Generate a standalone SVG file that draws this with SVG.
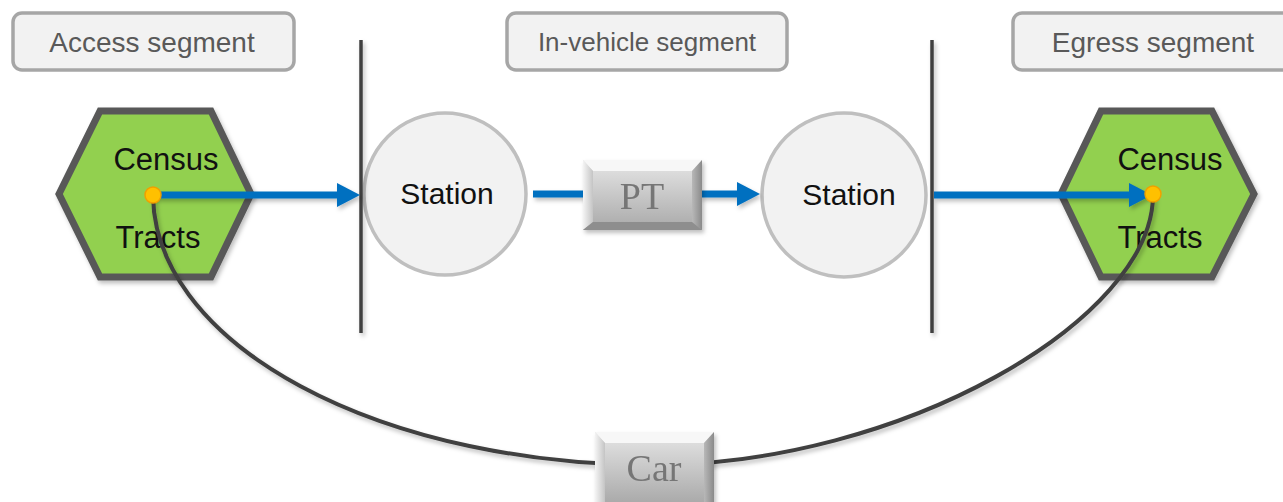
<svg xmlns="http://www.w3.org/2000/svg" width="1283" height="502" viewBox="0 0 1283 502">
<style>
.seg rect{fill:#f2f2f2;stroke:#a6a6a6;stroke-width:3.5}
.seg text{font-family:"Liberation Sans",Arial,sans-serif;font-size:28px;fill:#595959;text-anchor:middle}
.hex polygon{fill:#92d050;stroke:#595959;stroke-width:7;stroke-linejoin:miter}
.hex text,.st text{font-family:"Liberation Sans",Arial,sans-serif;font-size:31px;fill:#111;text-anchor:middle}
.st circle{fill:#f2f2f2;stroke:#bfbfbf;stroke-width:3.5}
.st text{font-size:30px}
.bev text{font-family:"Liberation Serif","Times New Roman",serif;font-size:38px;fill:#767676;text-anchor:middle}
.div{stroke:#404040;stroke-width:3.5}
.blue{stroke:#0070c0;stroke-width:7;fill:none}
.car{stroke:#404040;stroke-width:4;fill:none}
.dot{fill:#ffc000;stroke:#f0a000;stroke-width:1.5}
</style>
<defs>
<filter id="sh" filterUnits="userSpaceOnUse" x="0" y="0" width="1283" height="502">
<feDropShadow dx="2" dy="3" stdDeviation="2" flood-color="#000" flood-opacity="0.25"/>
</filter>
<marker id="ah" markerUnits="userSpaceOnUse" markerWidth="24" markerHeight="24" refX="0" refY="12" orient="auto">
<path d="M0,0 L23,12 L0,24 z" fill="#0070c0"/>
</marker>
<linearGradient id="face" x1="0" y1="0" x2="0" y2="1">
<stop offset="0" stop-color="#e6e6e6"/>
<stop offset="1" stop-color="#a9a9a9"/>
</linearGradient>
<linearGradient id="lside" x1="0" y1="0" x2="1" y2="0">
<stop offset="0" stop-color="#f4f4f4"/>
<stop offset="1" stop-color="#c4c4c4"/>
</linearGradient>
<linearGradient id="rside" x1="0" y1="0" x2="1" y2="0">
<stop offset="0" stop-color="#b8b8b8"/>
<stop offset="1" stop-color="#8a8a8a"/>
</linearGradient>
</defs>

<g id="access-segment" class="seg"><rect x="13" y="13" width="281" height="57" rx="9"/><text x="152" y="52">Access segment</text></g>
<g id="invehicle-segment" class="seg"><rect x="507" y="13" width="280" height="57" rx="9"/><text x="647" y="51" style="font-size:26px">In-vehicle segment</text></g>
<g id="egress-segment" class="seg"><rect x="1013" y="13" width="281" height="57" rx="9"/><text x="1153" y="52">Egress segment</text></g>

<g id="tract-origin" class="hex"><polygon points="59,194 100,111 211,111 251,194 211,277 100,277" filter="url(#sh)"/><text x="166" y="170">Census</text><text x="158" y="248">Tracts</text></g>
<g id="tract-dest" class="hex"><polygon points="1061,194 1101,111 1212,111 1254,194 1212,277 1101,277" filter="url(#sh)"/><text x="1170" y="170">Census</text><text x="1160" y="248">Tracts</text></g>

<g id="station-board" class="st"><circle cx="445" cy="194" r="81"/><text x="447" y="204">Station</text></g>
<g id="station-alight" class="st"><circle cx="844" cy="195" r="82"/><text x="849" y="205">Station</text></g>

<g id="dividers">
<line class="div" x1="361" y1="40" x2="361" y2="333" filter="url(#sh)"/>
<line class="div" x1="932" y1="40" x2="932" y2="333" filter="url(#sh)"/>
</g>

<g id="connectors">
<path class="car" filter="url(#sh)" d="M153,195 A500,271 0 0 0 653,465 C900,465 1153,320 1153,195"/>
<path class="blue" filter="url(#sh)" d="M153,195 H337" marker-end="url(#ah)"/>
<path class="blue" filter="url(#sh)" d="M533,194 H585"/>
<path class="blue" filter="url(#sh)" d="M700,194 H737" marker-end="url(#ah)"/>
<path class="blue" filter="url(#sh)" d="M934,195 H1129" marker-end="url(#ah)"/>
</g>

<g id="pt" class="bev" filter="url(#sh)">
<rect x="583" y="160" width="119" height="70" fill="url(#face)"/>
<polygon points="583,160 702,160 692,171 593,171" fill="#f7f7f7"/>
<polygon points="583,160 593,171 593,222 583,230" fill="url(#lside)"/>
<polygon points="702,160 692,171 692,222 702,230" fill="url(#rside)"/>
<polygon points="583,230 593,222 692,222 702,230" fill="#8e8e8e"/>
<text x="642" y="209">PT</text>
</g>

<g id="car" class="bev" filter="url(#sh)">
<rect x="595" y="432" width="119" height="72" fill="url(#face)"/>
<polygon points="595,432 714,432 704,443 605,443" fill="#f7f7f7"/>
<polygon points="595,432 605,443 605,504 595,504" fill="url(#lside)"/>
<polygon points="714,432 704,443 704,504 714,504" fill="url(#rside)"/>
<text x="654" y="481">Car</text>
</g>

<g id="points">
<circle class="dot" cx="153" cy="195" r="8"/>
<circle class="dot" cx="1153" cy="194" r="8"/>
</g>
</svg>
